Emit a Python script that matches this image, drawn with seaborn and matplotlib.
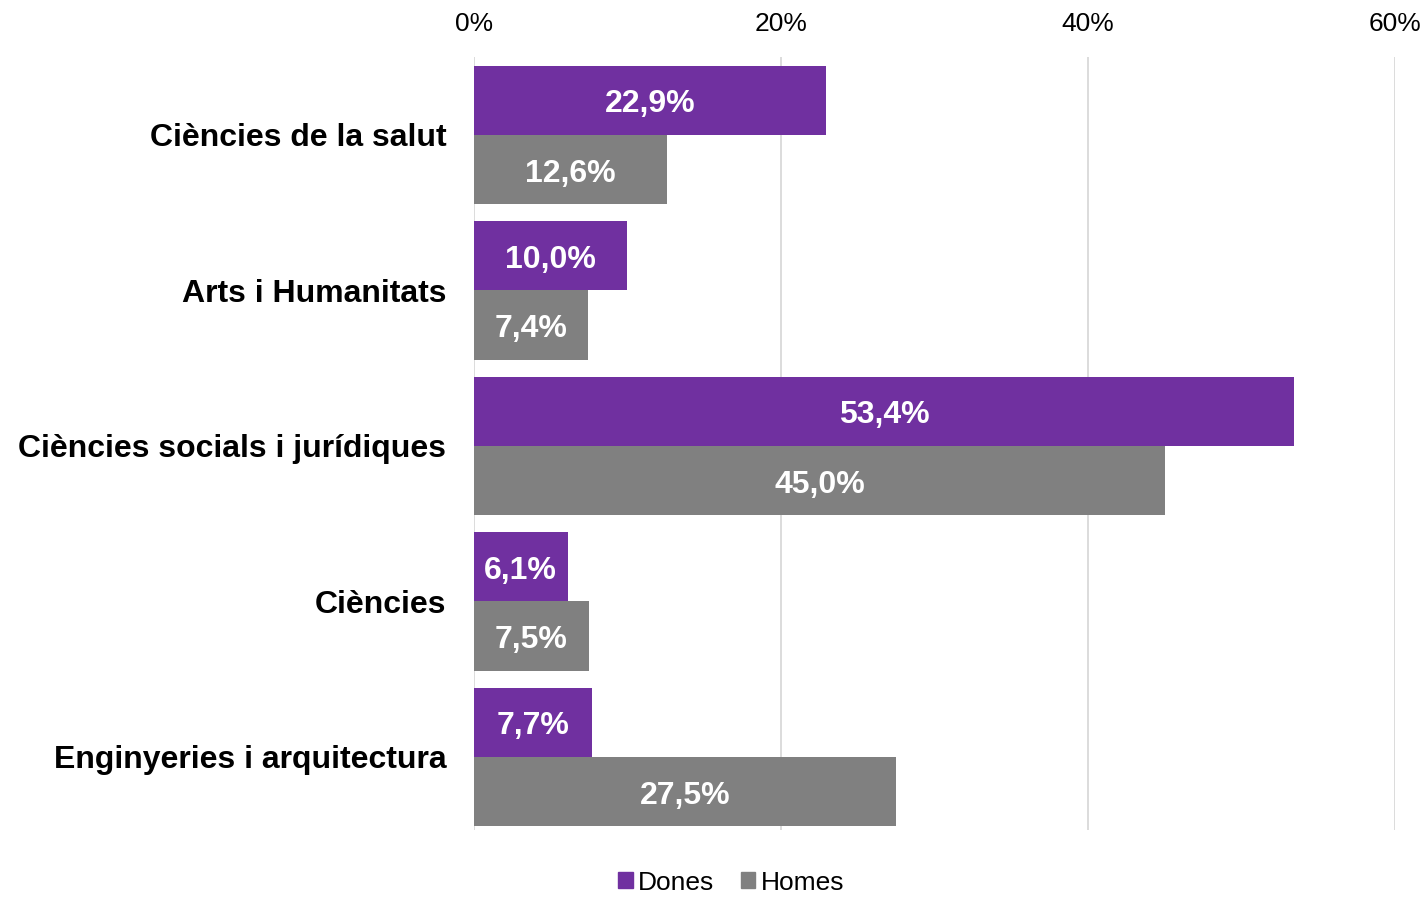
import pandas as pd
import matplotlib.pyplot as plt
import seaborn as sns
from matplotlib.ticker import PercentFormatter
from matplotlib.patches import Patch

categories = ["Ciències de la salut", "Arts i Humanitats", "Ciències socials i jurídiques",
              "Ciències", "Enginyeries i arquitectura"]
dones = [22.9, 10.0, 53.4, 6.1, 7.7]
homes = [12.6, 7.4, 45.0, 7.5, 27.5]
series = ["Dones", "Homes"]
colors = {"Dones": "#7030A0", "Homes": "#808080"}

df = pd.DataFrame({"Àmbit": categories * 2,
                   "Sexe": ["Dones"] * 5 + ["Homes"] * 5,
                   "Valor": dones + homes})

sns.set_style("white")
plt.rcParams["font.family"] = ["Liberation Sans", "DejaVu Sans"]
plt.rcParams["text.color"] = "black"
plt.rcParams["xtick.color"] = "black"
plt.rcParams["ytick.color"] = "black"

fig = plt.figure(figsize=(14.25, 8.98), dpi=100)
ax = fig.add_axes([0.3326, 0.0757, 0.6465, 0.8608])

sns.barplot(data=df, y="Àmbit", x="Valor", hue="Sexe", order=categories,
            hue_order=series, palette=colors, width=0.89, orient="h",
            saturation=1, linewidth=0, ax=ax, legend=False)

for cont in ax.containers:
    labels = [f"{b.get_width():.1f}%".replace(".", ",") for b in cont]
    texts = ax.bar_label(cont, labels=labels, label_type="center", color="white",
                         fontsize=23, fontweight="bold")
    for t in texts:
        t.xyann = (0, -3)  # nudge down a little

ax.set_xlim(0, 60)
ax.set_ylim(4.47, -0.5)
ax.set_xticks([0, 20, 40, 60])
ax.xaxis.set_major_formatter(PercentFormatter(decimals=0))
ax.xaxis.tick_top()
ax.tick_params(axis="x", labelsize=19, length=0, pad=15)
ax.tick_params(axis="y", labelsize=23, length=0, pad=20)
for t in ax.get_yticklabels():
    t.set_fontweight("bold")
ax.grid(axis="x", color="#D9D9D9", linewidth=1.3)
ax.set_axisbelow(True)
ax.set_xlabel("")
ax.set_ylabel("")
sns.despine(ax=ax, left=True, bottom=True, top=True, right=True)

handles = [Patch(color=colors[s], label=s) for s in series]
fig.legend(handles=handles, loc="center", bbox_to_anchor=(0.513, 0.017),
           ncol=2, frameon=False, fontsize=19, handlelength=0.55,
           handleheight=0.55, handletextpad=0.2, columnspacing=1.0,
           borderpad=0.1)

fig.savefig("out.png", dpi=100)
